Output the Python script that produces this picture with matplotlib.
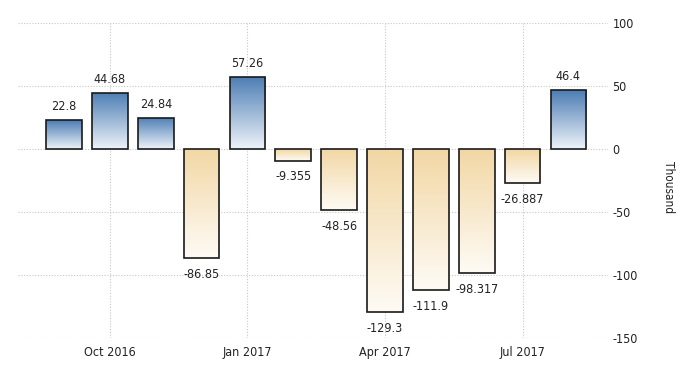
import matplotlib
matplotlib.use("Agg")
import matplotlib.pyplot as plt
import numpy as np
from matplotlib.colors import LinearSegmentedColormap

months = ["Sep 2016", "Oct 2016", "Nov 2016", "Dec 2016", "Jan 2017", "Feb 2017",
          "Mar 2017", "Apr 2017", "May 2017", "Jun 2017", "Jul 2017", "Aug 2017"]
values = [22.8, 44.68, 24.84, -86.85, 57.26, -9.355, -48.56, -129.3, -111.9, -98.317, -26.887, 46.4]
labels = ["22.8", "44.68", "24.84", "-86.85", "57.26", "-9.355", "-48.56", "-129.3",
          "-111.9", "-98.317", "-26.887", "46.4"]
tick_months = ["Oct 2016", "Jan 2017", "Apr 2017", "Jul 2017"]
yticks = [100, 50, 0, -50, -100, -150]

plt.rcParams['font.family'] = ['DejaVu Sans']

fig = plt.figure(figsize=(7, 3.75), dpi=100)
ax = fig.add_axes([0.026, 0.0987, 0.843, 0.8403])

x = np.arange(len(values))
bars = ax.bar(x, values, width=0.78, color='none', edgecolor='#1a1a1a', linewidth=1.2, zorder=3)

pos_cmap = LinearSegmentedColormap.from_list('pos', ['#eef3f9', '#4c7db4'])
neg_cmap = LinearSegmentedColormap.from_list('neg', ['#fefbf5', '#f2d7a4'])
grad = np.linspace(0, 1, 256).reshape(-1, 1)

for b, v in zip(bars, values):
    x0 = b.get_x()
    x1 = x0 + b.get_width()
    if v >= 0:
        im = ax.imshow(grad, extent=[x0, x1, 0, v], origin='lower', aspect='auto',
                       cmap=pos_cmap, zorder=2, interpolation='bilinear')
    else:
        im = ax.imshow(grad, extent=[x0, x1, v, 0], origin='lower', aspect='auto',
                       cmap=neg_cmap, zorder=2, interpolation='bilinear')
    im.set_clip_path(b)

for b, v, lab in zip(bars, values, labels):
    cx = b.get_x() + b.get_width() / 2
    if v >= 0:
        ax.annotate(lab, (cx, v), xytext=(0, 5), textcoords='offset points',
                    ha='center', va='bottom', fontsize=9, color='#222222',
                    fontstretch='condensed')
    else:
        ax.annotate(lab, (cx, v), xytext=(0, -7), textcoords='offset points',
                    ha='center', va='top', fontsize=9, color='#222222',
                    fontstretch='condensed')

ax.set_xlim(-1.0, 11.87)
ax.set_ylim(-150, 100)
ax.set_yticks(yticks)
ax.set_yticklabels([str(t) for t in yticks])
ax.yaxis.tick_right()
ax.set_xticks([months.index(m) for m in tick_months])
ax.set_xticklabels(tick_months)

ax.tick_params(axis='both', length=0, labelsize=9, colors='#222222')
ax.tick_params(axis='y', pad=3)
ax.tick_params(axis='x', pad=6)
for lbl in ax.get_xticklabels() + ax.get_yticklabels():
    lbl.set_fontstretch('condensed')
for s in ax.spines.values():
    s.set_visible(False)

ax.grid(True, which='major', axis='both', linestyle=(0, (1, 1.5)), color='#c8c8c8',
        linewidth=0.8, zorder=0)
ax.set_axisbelow(True)

fig.text(0.955, 0.5, "Thousand", rotation=270, ha='center', va='center',
         fontsize=8.5, color='#222222', fontstretch='condensed')

fig.savefig("out.png", dpi=100, facecolor='white')
